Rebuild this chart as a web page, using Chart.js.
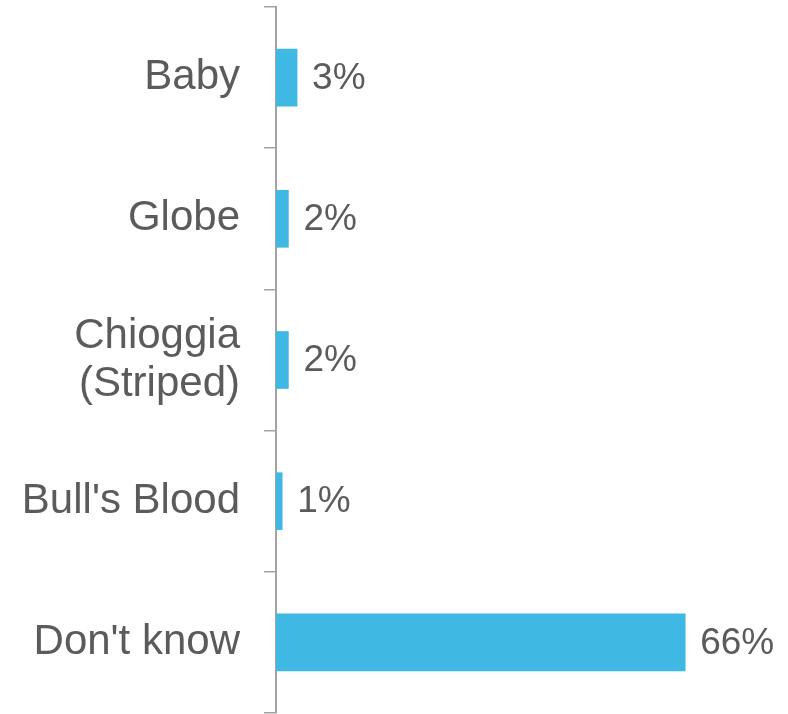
<!DOCTYPE html>
<html>
<head>
<meta charset="utf-8">
<script src="https://cdn.jsdelivr.net/npm/chart.js@4/dist/chart.umd.min.js"></script>
<style>
  html, body { margin: 0; padding: 0; background: #ffffff; }
  #wrap { width: 788px; height: 714px; position: relative; }
</style>
</head>
<body>
<div id="wrap"><canvas id="c"></canvas></div>
<script>
const categories = ['Baby', 'Globe', ['Chioggia', '(Striped)'], "Bull's Blood", "Don't know"];
const shares = [3.4, 2.0, 2.0, 1.0, 66];
const valueLabels = ['3%', '2%', '2%', '1%', '66%'];

const textColor = '#5b5b5b';
const axisColor = '#a3a3a3';
const barColor = '#3fb8e4';
const fontFamily = '"Liberation Sans", Arial, sans-serif';

const valueLabelPlugin = {
  id: 'valueLabels',
  afterDatasetsDraw(chart) {
    const ctx = chart.ctx;
    const meta = chart.getDatasetMeta(0);
    ctx.save();
    ctx.fillStyle = textColor;
    ctx.font = '37px ' + fontFamily;
    ctx.textAlign = 'left';
    ctx.textBaseline = 'middle';
    meta.data.forEach((bar, i) => {
      ctx.fillText(valueLabels[i], bar.x + 15, bar.y + 1);
    });
    ctx.restore();
  }
};

new Chart(document.getElementById('c'), {
  type: 'bar',
  data: {
    labels: categories,
    datasets: [{
      data: shares,
      backgroundColor: barColor,
      borderWidth: 0,
      barThickness: 57
    }]
  },
  options: {
    indexAxis: 'y',
    responsive: true,
    maintainAspectRatio: false,
    animation: false,
    layout: { padding: { left: 0, right: 16, top: 7, bottom: 1 } },
    plugins: {
      legend: { display: false },
      tooltip: { enabled: false }
    },
    scales: {
      x: {
        display: false,
        min: 0,
        max: 80
      },
      y: {
        afterFit(scale) {
          scale.width = 276;
          scale.paddingTop = 0;
          scale.paddingBottom = 0;
        },
        grid: {
          offset: true,
          drawOnChartArea: false,
          drawTicks: true,
          tickLength: 12,
          color: axisColor,
          lineWidth: 1.5
        },
        border: { display: true, color: axisColor, width: 2 },
        ticks: {
          color: textColor,
          padding: 24,
          font: { family: fontFamily, size: 42, lineHeight: 1.14 }
        }
      }
    }
  },
  plugins: [valueLabelPlugin]
});
</script>
</body>
</html>
